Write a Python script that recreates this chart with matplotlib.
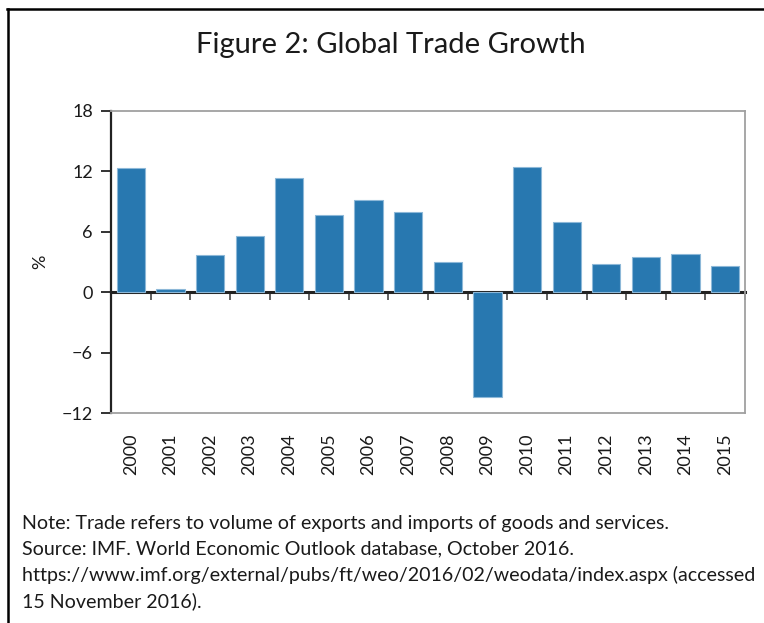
#!/usr/bin/env python3
# Bar chart of global trade growth, 2000-2015 (IMF WEO, Oct 2016)
from matplotlib import pyplot as plt
from matplotlib.lines import Line2D
import numpy as np

years = ['2000', '2001', '2002', '2003', '2004', '2005', '2006', '2007',
         '2008', '2009', '2010', '2011', '2012', '2013', '2014', '2015']
growth = [12.3, 0.3, 3.7, 5.6, 11.3, 7.7, 9.2, 8.0,
          3.0, -10.4, 12.4, 7.0, 2.8, 3.5, 3.8, 2.6]
y_ticks = [-12, -6, 0, 6, 12, 18]
y_tick_labels = ['\u221212', '\u22126', '0', '6', '12', '18']

title = 'Figure 2: Global Trade Growth'
note_lines = [
    'Note: Trade refers to volume of exports and imports of goods and services.',
    'Source: IMF. World Economic Outlook database, October 2016.',
    'https://www.imf.org/external/pubs/ft/weo/2016/02/weodata/index.aspx (accessed',
    '15 November 2016).',
]

plt.rcParams['font.family'] = ['Lato', 'DejaVu Sans']
text_color = '#1a1a1a'

W, H = 764, 623
fig = plt.figure(figsize=(W / 100, H / 100), dpi=100)

# axes box in pixel coordinates: left 111, right 745, top 111, bottom 413
ax = fig.add_axes([111 / W, 1 - 413 / H, (745 - 111) / W, (413 - 111) / H])

x = np.arange(len(years))
ax.bar(x, growth, width=0.71, color='#2878b0', edgecolor='#8db8d8',
       linewidth=0.8, zorder=2)

ax.set_xlim(-0.5, len(years) - 0.5)
ax.set_ylim(-12, 18)
ax.set_yticks(y_ticks)
ax.set_yticklabels(y_tick_labels)
ax.tick_params(axis='y', direction='out', length=7, width=1.3, color='#222222',
               labelsize=13, pad=6, labelcolor=text_color)

ax.set_xticks(x)
ax.set_xticklabels(years, rotation=90)
ax.tick_params(axis='x', length=0, labelsize=13, pad=15, labelcolor=text_color)

for side in ['top', 'right', 'bottom']:
    ax.spines[side].set_color('#a0a0a0')
    ax.spines[side].set_linewidth(1.3)
ax.spines['left'].set_color('#222222')
ax.spines['left'].set_linewidth(1.6)

ax.set_ylabel('%', fontsize=13, labelpad=10, color=text_color)

# zero line with ticks at the category boundaries
zero_pos = (0 - ax.get_ylim()[0]) / (ax.get_ylim()[1] - ax.get_ylim()[0])
sec = ax.secondary_xaxis(zero_pos)
sec.set_xticks(x + 0.5)
sec.set_xticklabels([])
sec.tick_params(axis='x', direction='out', length=6, width=1.3, color='#555555')
sec.spines['bottom'].set_color('#222222')
sec.spines['bottom'].set_linewidth(2.2)
sec.spines['bottom'].set_zorder(3)

fig.text(391 / W, 1 - 45 / H, title, ha='center', va='center', fontsize=21,
         color=text_color)

for i, line in enumerate(note_lines):
    fig.text(22 / W, 1 - (523 + i * 26) / H, line, ha='left', va='center',
             fontsize=14.1, color=text_color)

# frame: top rule and left rule
fig.add_artist(Line2D([7 / W, 1], [1 - 9 / H, 1 - 9 / H], color='black',
                      linewidth=1.8, transform=fig.transFigure))
fig.add_artist(Line2D([8 / W, 8 / W], [1 - 9 / H, 0], color='black',
                      linewidth=1.8, transform=fig.transFigure))

fig.savefig('out.png', dpi=100)
